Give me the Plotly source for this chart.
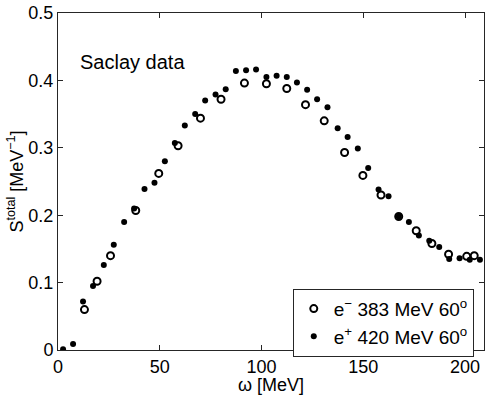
import plotly.graph_objects as go

# e- 383 MeV 60 deg (open circles)
omega_em = [13.0, 19.2, 25.8, 38.2, 49.5, 59.0, 70.0, 80.1, 91.6, 102.4, 112.4, 121.6,
            130.8, 140.8, 149.8, 158.7, 167.4, 176.0, 183.7, 191.9, 200.8, 204.5]
s_em = [0.060, 0.102, 0.140, 0.207, 0.262, 0.303, 0.344, 0.372, 0.396, 0.395, 0.388, 0.364,
        0.340, 0.293, 0.259, 0.230, 0.198, 0.177, 0.158, 0.142, 0.139, 0.140]

# e+ 420 MeV 60 deg (filled dots)
omega_ep = [2.5, 7.4, 12.3, 17.2, 22.5, 27.4, 32.5, 37.4, 42.5, 47.4, 52.5, 57.4, 62.3,
            67.4, 72.3, 77.4, 82.4, 87.4, 92.4, 97.3, 102.4, 107.4, 112.4, 117.4, 122.4,
            127.3, 132.4, 137.4, 142.3, 147.3, 152.4, 157.5, 162.4, 167.4, 172.4, 177.3,
            182.4, 187.3, 192.2, 197.3, 202.3, 207.3]
s_ep = [0.001, 0.009, 0.072, 0.095, 0.126, 0.156, 0.190, 0.210, 0.239, 0.248, 0.280, 0.307,
        0.333, 0.350, 0.370, 0.379, 0.387, 0.414, 0.415, 0.416, 0.405, 0.407, 0.405, 0.397,
        0.386, 0.372, 0.360, 0.329, 0.316, 0.299, 0.270, 0.238, 0.228, 0.198, 0.190, 0.170,
        0.162, 0.153, 0.135, 0.136, 0.134, 0.134]

FONT = "Liberation Sans, Arial, sans-serif"

fig = go.Figure()
fig.add_trace(go.Scatter(
    x=omega_em, y=s_em, mode="markers", name="e<sup>\u2212</sup> 383 MeV 60<sup>o</sup>",
    marker=dict(symbol="circle-open", size=7, color="black", line=dict(width=2, color="black"))))
fig.add_trace(go.Scatter(
    x=omega_ep, y=s_ep, mode="markers", name="e<sup>+</sup> 420 MeV 60<sup>o</sup>",
    marker=dict(symbol="circle", size=6, color="black")))

axis = dict(showline=True, linecolor="#262626", linewidth=1, mirror="ticks", ticks="inside",
            ticklen=5, tickcolor="#262626", showgrid=False, zeroline=False, automargin=False,
            ticklabeloverflow="allow", tickfont=dict(size=18, color="black", family=FONT))
fig.update_xaxes(range=[0, 209.3], tickvals=[0, 50, 100, 150, 200], **axis)
fig.update_yaxes(range=[0, 0.5], tickvals=[0, 0.1, 0.2, 0.3, 0.4, 0.5],
                 title=dict(text="S<sup>total</sup> [MeV<sup>\u22121</sup>]",
                            font=dict(size=18, color="black", family=FONT), standoff=0), **axis)

# x title as an annotation: with automargin off plotly ignores the title standoff
fig.add_annotation(x=0.5, y=-0.104, xref="paper", yref="paper", text="\u03c9 [MeV]",
                   showarrow=False, xanchor="center", yanchor="middle",
                   font=dict(size=18, color="black", family=FONT))
fig.add_annotation(x=0.047, y=0.855, xref="paper", yref="paper", text="Saclay data",
                   showarrow=False, xanchor="left", yanchor="middle",
                   font=dict(size=20, color="black", family=FONT))

fig.update_layout(
    width=491, height=396, plot_bgcolor="white", paper_bgcolor="white",
    margin=dict(l=58, r=7, t=13, b=46),
    font=dict(family=FONT, color="black"),
    legend=dict(x=0.976, y=-0.02, xanchor="right", yanchor="bottom",
                bordercolor="#262626", borderwidth=1, bgcolor="white",
                font=dict(size=19, color="black", family=FONT), tracegroupgap=0),
)
# drop the page body's default 8 px margin so the figure sits flush in the window
fig.write_html("out.html", config={"displayModeBar": False},
               post_script="document.body.style.margin = '0';")
